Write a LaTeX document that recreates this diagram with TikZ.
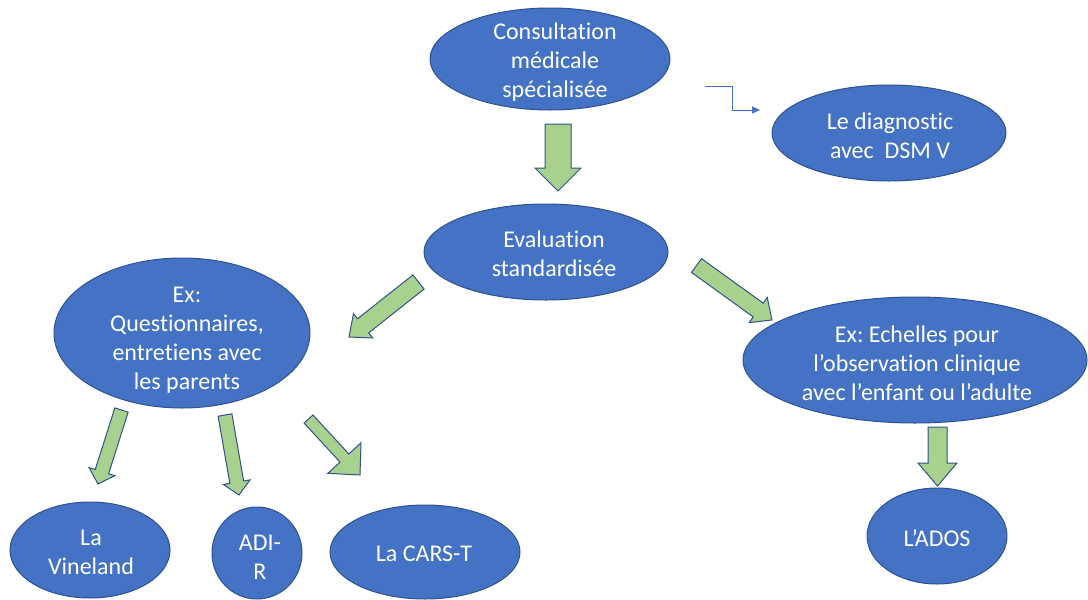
\documentclass[tikz,border=0pt]{standalone}
\usepackage{fontspec}
\setmainfont[Ligatures=NoCommon]{Carlito}
\frenchspacing
\usetikzlibrary{shapes.geometric,calc,arrows.meta}
\definecolor{ellfill}{HTML}{4472C4}
\definecolor{ellline}{HTML}{2F528F}
\definecolor{arrfill}{HTML}{A9D18E}
\definecolor{arrline}{HTML}{2F528F}
\definecolor{connblue}{HTML}{4472C4}
\tikzset{
  ell/.style={ellipse, draw=ellline, fill=ellfill, line width=1pt, inner sep=0pt},
  lbl/.style={text=white, align=center, inner sep=0pt, font=\fontsize{24}{29}\selectfont},
  barrow/.style={draw=arrline, fill=arrfill, line width=1pt, line join=miter},
  conn/.style={draw=connblue, line width=1pt, -{Triangle[length=8pt,width=7pt]}}
}
% #1 tail, #2 tip, #3 shaft width, #4 head width, #5 head length (all pt)
\newcommand\blockarrow[5]{%
  \coordinate (ba-h) at ($(#2)!#5pt!(#1)$);
  \draw[barrow] ($(#1)!#3*0.5pt!90:(#2)$) -- ($(ba-h)!#3*0.5pt!-90:(#1)$)
     -- ($(ba-h)!#4*0.5pt!-90:(#1)$) -- (#2) -- ($(ba-h)!#4*0.5pt!90:(#1)$)
     -- ($(ba-h)!#3*0.5pt!90:(#1)$) -- ($(#1)!#3*0.5pt!-90:(#2)$) -- cycle;
}
\begin{document}
\begin{tikzpicture}[x=1pt,y=-1pt]
\useasboundingbox (0,0) rectangle (1088,600);

% ellipses
\node[ell, minimum width=240pt, minimum height=102pt] (cons) at (550,59) {};
\node[lbl] (cons-t) at (555,62) {Consultation\\médicale\\spécialisée};

\node[ell, minimum width=234pt, minimum height=96pt] (diag) at (889,133) {};
\node[lbl] (diag-t) at (890,136) {Le diagnostic\\avec\ \ DSM~V};

\node[ell, minimum width=244pt, minimum height=96pt] (eval) at (546,252) {};
\node[lbl] (eval-t) at (554,254) {Evaluation\\standardisée};

\node[ell, minimum width=256pt, minimum height=150pt] (quest) at (182,333) {};
\node[lbl] (quest-t) at (187,340) {Ex:\\Questionnaires,\\entretiens avec\\les parents};

\node[ell, minimum width=344pt, minimum height=126pt] (ech) at (915,360) {};
\node[lbl] (ech-t) at (917,363) {Ex: Echelles pour\\l’observation clinique\\avec l’enfant ou l’adulte};

\node[ell, minimum width=160pt, minimum height=96pt] (vine) at (90,550) {};
\node[lbl] (vine-t) at (91,552) {La\\Vineland};

\node[ell, minimum width=90pt, minimum height=92pt] (adir) at (257,553) {};
\node[lbl] (adir-t) at (260,557) {ADI-\\R};

\node[ell, minimum width=190pt, minimum height=94pt] (cars) at (425,552) {};
\node[lbl] (cars-t) at (424,554) {La CARS-T};

\node[ell, minimum width=140pt, minimum height=96pt] (ados) at (937,536) {};
\node[lbl] (ados-t) at (937,538) {L’ADOS};

% block arrows
\coordinate (a1s) at (558,124);   \coordinate (a1e) at (558,191);
\coordinate (a2s) at (418.5,282); \coordinate (a2e) at (349,337);
\coordinate (a3s) at (696.5,265.5); \coordinate (a3e) at (772,320);
\coordinate (a4s) at (121.5,410); \coordinate (a4e) at (98,484);
\coordinate (a5s) at (225,415);   \coordinate (a5e) at (239,495);
\coordinate (a6s) at (308.5,419); \coordinate (a6e) at (360,475);
\coordinate (a7s) at (937.5,427); \coordinate (a7e) at (937.5,486);
\blockarrow{a1s}{a1e}{26}{46}{23}
\blockarrow{a2s}{a2e}{18}{31}{18}
\blockarrow{a3s}{a3e}{17}{31}{17}
\blockarrow{a4s}{a4e}{14}{27}{13}
\blockarrow{a5s}{a5e}{14}{27}{13}
\blockarrow{a6s}{a6e}{12}{45}{23}
\blockarrow{a7s}{a7e}{19}{39}{23}

% small elbow connector
\coordinate (s1) at (705,86);
\coordinate (s2) at (760,110);
\draw[conn] (s1) -| ($(s1)!0.5!(s2)$) |- (s2);
\end{tikzpicture}
\end{document}
